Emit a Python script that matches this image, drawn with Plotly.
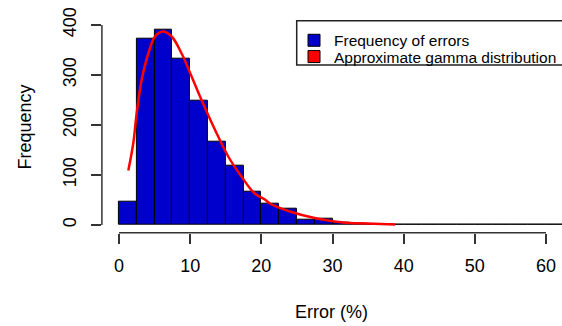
import plotly.graph_objects as go

# ---- data ----
bin_width = 2.5
bin_starts = [i * bin_width for i in range(25)]  # 0 .. 60
counts = [47, 372, 391, 333, 248, 167, 119, 66, 43, 33, 11, 12, 4, 2, 1, 1,
          0, 0, 0, 0, 0, 0, 0, 0, 0]

curve_x = [1.31, 2.0, 2.48, 3.18, 4.12, 5.06, 6.15, 7.4, 8.8, 10.2, 11.6, 13.5, 15.35,
           17.2, 19.0, 20.5, 21.2, 24.0, 27.8, 31.5, 34.8, 38.8]
curve_y = [109, 163, 223, 290, 343, 377, 387, 377, 343, 297, 250, 190, 137,
           97, 64, 51, 43, 27, 13, 5, 3, 1]

x_ticks = [0, 10, 20, 30, 40, 50, 60]
y_ticks = [0, 100, 200, 300, 400]

FONT = "Liberation Sans, Arial, sans-serif"
W, H = 562, 326

# plot region in pixels (R-like, 4% expansion)
px_left, px_right = 101.9, 562.0
px_top, px_bottom = 21.7, 232.8
x0_px, x_unit = 119.0, (546.0 - 119.0) / 60.0
y0_px, y_unit = 225.0, 0.5
xr = [(px_left - x0_px) / x_unit, (px_right - x0_px) / x_unit]
yr = [(y0_px - px_bottom) / y_unit, (y0_px - px_top) / y_unit]

fig = go.Figure()
fig.add_trace(go.Bar(
    x=[s + bin_width / 2 for s in bin_starts], y=counts, width=bin_width,
    marker=dict(color="#0000CD", line=dict(color="black", width=1)),
    name="Frequency of errors", showlegend=True, legend="legend",
))
fig.add_trace(go.Scatter(
    x=curve_x, y=curve_y, mode="lines", line=dict(color="#FF0000", width=2.5, shape="spline"),
    showlegend=False, name="Approximate gamma distribution",
))
fig.add_trace(go.Bar(
    x=[None], y=[None], name="Approximate gamma distribution", legend="legend2",
    marker=dict(color="#FF0000", line=dict(color="black", width=1)),
))

leg_common = dict(xanchor="left", yanchor="middle", borderwidth=0,
                  bgcolor="rgba(0,0,0,0)", font=dict(size=15.5))

fig.update_layout(
    width=W, height=H,
    margin=dict(l=0, r=0, t=0, b=0, autoexpand=False),
    paper_bgcolor="white", plot_bgcolor="white",
    font=dict(family=FONT, size=18, color="black"),
    bargap=0,
    xaxis=dict(
        domain=[px_left / W, px_right / W], range=xr, automargin=False,
        tickvals=x_ticks, ticks="outside", ticklen=10, tickwidth=1.5, tickcolor="#333",
        showline=False, showgrid=False, zeroline=False, fixedrange=True,
        tickfont=dict(size=18), ticklabelstandoff=7,
    ),
    yaxis=dict(
        domain=[(H - px_bottom) / H, (H - px_top) / H], range=yr, automargin=False,
        tickvals=y_ticks, ticks="outside", ticklen=10, tickwidth=1.5, tickcolor="#333",
        showline=False, showgrid=False, zeroline=False, fixedrange=True,
        tickangle=-90, tickfont=dict(size=18), ticklabelstandoff=8,
    ),
    legend=dict(x=294 / W, y=(H - 40.7) / H, **leg_common),
    legend2=dict(x=294 / W, y=(H - 57.0) / H, **leg_common),
    shapes=[
        dict(type="line", xref="x", yref="y domain", x0=0, x1=60, y0=0, y1=0,
             line=dict(color="#333", width=1.5), layer="above"),
        dict(type="line", xref="x domain", yref="y", x0=0, x1=0, y0=0, y1=400,
             line=dict(color="#333", width=1.5), layer="above"),
        dict(type="rect", xref="paper", yref="paper",
             x0=296.7 / W, x1=1.02, y0=(H - 65.0) / H, y1=(H - 20.7) / H,
             line=dict(color="#222", width=1.5), fillcolor="white", layer="above"),
    ],
    annotations=[
        dict(text="Frequency", x=25 / W, y=(H - 127.5) / H, xref="paper", yref="paper",
             showarrow=False, textangle=-90, font=dict(size=18), xanchor="center", yanchor="middle"),
        dict(text="Error (%)", x=331 / W, y=(H - 312) / H, xref="paper", yref="paper",
             showarrow=False, font=dict(size=18), xanchor="center", yanchor="middle"),
    ],
)

fig.write_html("out.html", post_script="document.body.style.margin='0';",
               config={"displayModeBar": False})
